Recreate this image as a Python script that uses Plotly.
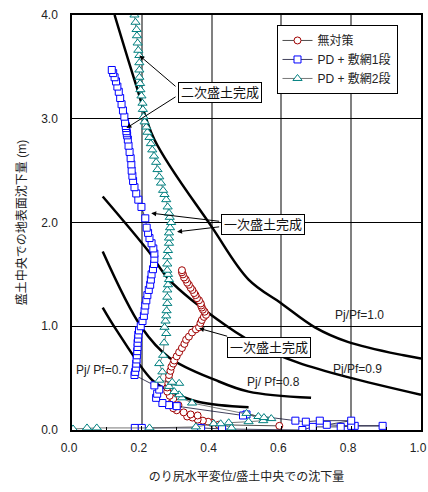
import plotly.graph_objects as go

# ---- data series ----
red_x = [0.594, 0.42, 0.40, 0.39, 0.375, 0.36, 0.345, 0.33, 0.36, 0.34, 0.32, 0.30, 0.29, 0.305, 0.285,
         0.29, 0.28, 0.273, 0.273, 0.276, 0.278, 0.278, 0.282, 0.285, 0.29, 0.293, 0.30, 0.307, 0.315,
         0.322, 0.327, 0.335, 0.344, 0.355, 0.364, 0.368, 0.372, 0.378, 0.384, 0.38, 0.375, 0.372, 0.37,
         0.369, 0.364, 0.358, 0.354, 0.35, 0.345, 0.34, 0.335, 0.33, 0.326, 0.321, 0.318, 0.315, 0.315]
red_y = [0.04, 0.05, 0.07, 0.08, 0.09, 0.10, 0.12, 0.13, 0.14, 0.15, 0.17, 0.19, 0.21, 0.24, 0.26,
         0.30, 0.33, 0.37, 0.41, 0.45, 0.49, 0.53, 0.57, 0.61, 0.64, 0.67, 0.71, 0.75, 0.79,
         0.83, 0.87, 0.90, 0.94, 0.97, 0.99, 1.03, 1.06, 1.09, 1.11, 1.14, 1.16, 1.18, 1.20,
         1.22, 1.25, 1.27, 1.30, 1.32, 1.35, 1.37, 1.40, 1.42, 1.45, 1.47, 1.50, 1.52, 1.54]

blue_x = [0.18, 0.20, 0.37, 0.43, 0.66, 0.69, 0.77, 0.81, 0.89, 0.80, 0.73, 0.80, 0.71, 0.67, 0.64,
          0.50, 0.49, 0.30, 0.278, 0.259, 0.241, 0.244, 0.25, 0.236,
          0.179, 0.181, 0.183, 0.184, 0.185, 0.186, 0.187, 0.188, 0.188, 0.189, 0.19, 0.192, 0.197,
          0.202, 0.206, 0.208, 0.21, 0.213, 0.216, 0.22, 0.224, 0.226, 0.228, 0.232, 0.235, 0.236,
          0.236, 0.233, 0.228, 0.222, 0.218, 0.214, 0.21, 0.199, 0.19, 0.184, 0.179, 0.175, 0.173,
          0.171, 0.17, 0.168, 0.165, 0.162, 0.16, 0.158, 0.157, 0.156, 0.155, 0.154, 0.152, 0.15,
          0.146, 0.142, 0.138, 0.134, 0.13, 0.126, 0.122, 0.118, 0.114]
blue_y = [0.02, 0.02, 0.02, 0.01, 0.00, 0.03, 0.03, 0.04, 0.04, 0.04, 0.05, 0.09, 0.09, 0.08, 0.09,
          0.15, 0.14, 0.23, 0.24, 0.26, 0.31, 0.35, 0.39, 0.43,
          0.53, 0.56, 0.60, 0.64, 0.68, 0.72, 0.76, 0.80, 0.84, 0.88, 0.92, 0.96, 1.00,
          1.05, 1.10, 1.15, 1.20, 1.25, 1.30, 1.35, 1.40, 1.45, 1.50, 1.55, 1.60, 1.65,
          1.70, 1.75, 1.80, 1.85, 1.90, 1.95, 2.04, 2.15, 2.22, 2.28, 2.34, 2.40, 2.45,
          2.50, 2.56, 2.62, 2.68, 2.74, 2.80, 2.84, 2.86, 2.88, 2.91, 2.93, 2.96, 3.02,
          3.08, 3.14, 3.20, 3.26, 3.31, 3.36, 3.40, 3.44, 3.47]

teal_x = [0.003, 0.043, 0.071, 0.222, 0.355, 0.406, 0.426, 0.457, 0.449, 0.506, 0.548, 0.50, 0.534,
          0.571, 0.55, 0.344, 0.315, 0.307, 0.293, 0.278, 0.307, 0.287, 0.25, 0.259, 0.25, 0.261,
          0.264, 0.27, 0.265, 0.268, 0.27, 0.271, 0.273, 0.273, 0.273, 0.275, 0.278, 0.275, 0.273,
          0.273, 0.273, 0.275, 0.278, 0.278, 0.278, 0.281, 0.284, 0.28, 0.278, 0.274, 0.27, 0.265,
          0.261, 0.255, 0.25, 0.245, 0.241, 0.235, 0.23, 0.226, 0.222, 0.216, 0.213, 0.208, 0.205,
          0.203, 0.202, 0.199, 0.196, 0.195, 0.193, 0.193, 0.193, 0.193, 0.19, 0.188, 0.186, 0.185,
          0.182, 0.179]
teal_y = [0.01, 0.02, 0.02, 0.02, 0.03, 0.06, 0.06, 0.02, 0.07, 0.08, 0.09, 0.16, 0.13,
          0.11, 0.12, 0.26, 0.31, 0.34, 0.37, 0.42, 0.45, 0.46, 0.48, 0.56, 0.64, 0.72,
          0.84, 0.93, 0.99, 1.05, 1.10, 1.15, 1.22, 1.28, 1.35, 1.40, 1.45, 1.50, 1.54,
          1.60, 1.67, 1.73, 1.80, 1.85, 1.90, 1.95, 2.00, 2.05, 2.09, 2.15, 2.22, 2.27,
          2.31, 2.38, 2.44, 2.51, 2.58, 2.64, 2.70, 2.76, 2.82, 2.87, 2.92, 2.97, 3.02,
          3.09, 3.15, 3.22, 3.28, 3.34, 3.40, 3.47, 3.54, 3.61, 3.66, 3.73, 3.80, 3.86,
          3.93, 4.00]

# ---- Pj/Pf reference curves ----
c10_x = [0.122, 0.185, 0.236, 0.40, 0.506, 0.60, 0.696, 0.79, 0.95, 1.0]
c10_y = [4.0, 3.31, 2.80, 1.96, 1.45, 1.22, 0.99, 0.85, 0.72, 0.69]
c09_x = [0.088, 0.222, 0.278, 0.44, 0.548, 0.648, 0.79, 1.0]
c09_y = [2.25, 1.71, 1.45, 1.01, 0.79, 0.65, 0.51, 0.34]
c08_x = [0.088, 0.199, 0.278, 0.412, 0.506, 0.685]
c08_y = [1.72, 0.99, 0.70, 0.48, 0.37, 0.31]
c07_x = [0.088, 0.128, 0.23, 0.278, 0.364, 0.506]
c07_y = [1.18, 0.96, 0.48, 0.38, 0.27, 0.22]

curve_labels = ["Pj/Pf=1.0", "Pj/Pf=0.9", "Pj/ Pf=0.8", "Pj/ Pf=0.7"]
label_x = [0.824, 0.818, 0.577, 0.088]
label_y = [1.11, 0.59, 0.46, 0.58]

series_names = ["無対策", "PD + 敷網1段", "PD + 敷網2段"]
x_ticks = [0.0, 0.2, 0.4, 0.6, 0.8, 1.0]
y_ticks = [0.0, 1.0, 2.0, 3.0, 4.0]

FONT = "Liberation Sans, Arial, Noto Sans CJK JP"

fig = go.Figure()

for cx, cy in [(c10_x, c10_y), (c09_x, c09_y), (c08_x, c08_y), (c07_x, c07_y)]:
    fig.add_trace(go.Scatter(x=cx, y=cy, mode="lines", line=dict(color="black", width=2.5, shape="spline"),
                             showlegend=False, hoverinfo="skip"))

fig.add_trace(go.Scatter(x=red_x, y=red_y, mode="lines+markers", name=series_names[0],
                         line=dict(color="#222222", width=0.8),
                         marker=dict(symbol="circle", size=7, color="white",
                                     line=dict(color="#a00000", width=1))))
fig.add_trace(go.Scatter(x=blue_x, y=blue_y, mode="lines+markers", name=series_names[1],
                         line=dict(color="#111133", width=0.8),
                         marker=dict(symbol="square", size=7, color="white",
                                     line=dict(color="#0000ff", width=1))))
fig.add_trace(go.Scatter(x=teal_x, y=teal_y, mode="lines+markers", name=series_names[2],
                         line=dict(color="#555555", width=0.8),
                         marker=dict(symbol="triangle-up", size=8, color="white",
                                     line=dict(color="#008080", width=1))))

for t, lx, ly in zip(curve_labels, label_x, label_y):
    fig.add_annotation(x=lx, y=ly, text=t, showarrow=False, font=dict(size=12, color="#222", family=FONT))

box = dict(showarrow=False, bordercolor="black", borderwidth=1, bgcolor="white", borderpad=2,
           font=dict(size=13, color="#111", family=FONT))
fig.add_annotation(x=0.423, y=3.25, text="二次盛土完成", **box)
fig.add_annotation(x=0.548, y=1.985, text="一次盛土完成", **box)
fig.add_annotation(x=0.565, y=0.80, text="一次盛土完成", **box)

arrows = [((0.193, 3.61), (0.301, 3.30)),
          ((0.156, 2.91), (0.301, 3.22)),
          ((0.227, 2.09), (0.426, 2.01)),
          ((0.301, 1.91), (0.426, 1.96)),
          ((0.364, 0.98), (0.449, 0.90))]
for (hx, hy), (tx, ty) in arrows:
    fig.add_annotation(x=hx, y=hy, ax=tx, ay=ty, axref="x", ayref="y", text="", showarrow=True,
                       arrowhead=2, arrowsize=1, arrowwidth=1, arrowcolor="black")

fig.update_layout(
    width=428, height=492,
    margin=dict(l=72, r=7, t=15, b=62),
    paper_bgcolor="white", plot_bgcolor="white",
    font=dict(family=FONT, size=12, color="#222"),
    legend=dict(x=0.586, y=0.976, xanchor="left", yanchor="top", bordercolor="black", borderwidth=1,
                bgcolor="white", font=dict(size=12, family=FONT), tracegroupgap=0),
    xaxis=dict(range=[0, 1.0], tickvals=x_ticks, tickformat=".1f", showgrid=True, gridcolor="#808080",
               gridwidth=1.5, showline=True, linecolor="black", linewidth=1.5, mirror=True,
               ticks="inside", ticklen=4, tickcolor="black", zeroline=False, automargin=False,
               ticklabelstandoff=6, ticklabelshift=-3, ticklabeloverflow="allow",
               minor=dict(dtick=0.1, ticks="inside", ticklen=3, tickcolor="black", showgrid=False),
               title=dict(text="のり尻水平変位/盛土中央での沈下量", font=dict(size=12), standoff=18)),
    yaxis=dict(range=[0, 4.0], tickvals=y_ticks, tickformat=".1f", showgrid=True, gridcolor="black",
               gridwidth=1, showline=True, linecolor="black", linewidth=1.5, mirror=True,
               ticks="inside", ticklen=4, tickcolor="black", zeroline=False, automargin=False,
               ticklabelstandoff=10,
               title=dict(text="盛土中央での地表面沈下量 (m)", font=dict(size=12), standoff=12)),
)

fig.write_html("out.html", config={"displayModeBar": False},
               post_script="document.body.style.margin='0';document.body.style.overflow='hidden';")
